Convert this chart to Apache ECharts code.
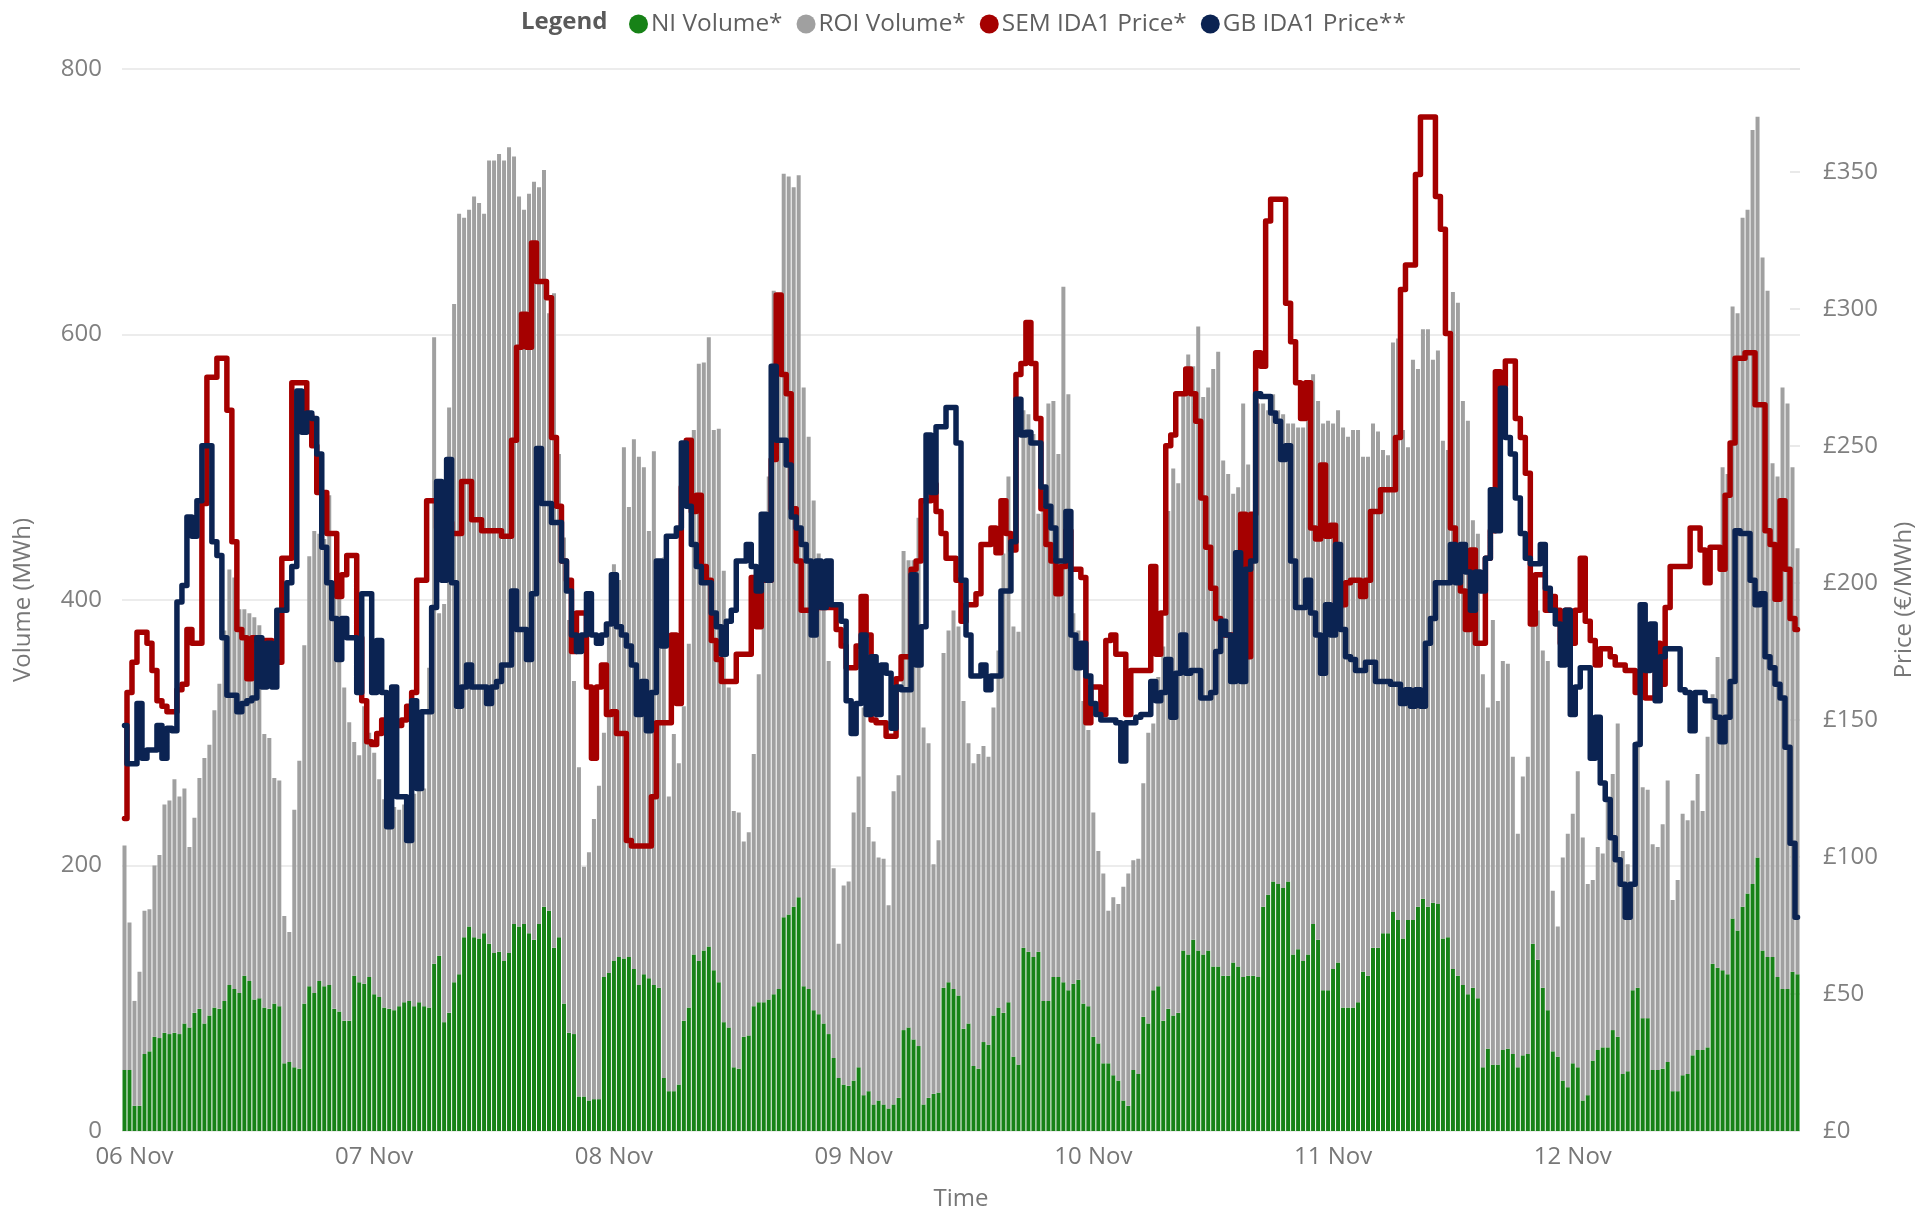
<!DOCTYPE html>
<html><head><meta charset="utf-8">
<script src="https://cdn.jsdelivr.net/npm/echarts@6/dist/echarts.min.js"></script>
<style>html,body{margin:0;padding:0;background:#fff}#c{width:1921px;height:1211px}</style>
</head><body><div id="c"></div>
<script>
// Half-hourly slots, first slot 05 Nov 23:00
const dayLabels = ['06 Nov','07 Nov','08 Nov','09 Nov','10 Nov','11 Nov','12 Nov'];
const volumeTicks = [0, 200, 400, 600, 800];
const priceTicks = [0, 50, 100, 150, 200, 250, 300, 350];

const niVolume = [
46,46,19,19,58,60,71,70,74,73,74,73,81,78,89,92,81,87,93,92,98,110,107,104,117,113,99,100,93,92,96,94,51,52,48,47,96,109,104,113,109,110,92,90,83,83,117,112,
111,116,103,101,93,92,91,94,97,98,94,97,94,93,126,132,82,89,112,118,146,154,146,145,149,141,134,135,128,134,156,154,156,149,144,156,169,166,138,146,96,74,73,26,26,23,24,24,
116,119,128,131,130,131,122,110,118,115,110,108,40,30,30,35,83,93,133,128,136,139,121,112,82,78,48,47,71,72,94,97,97,99,103,107,161,163,169,176,109,107,91,88,81,73,55,40,
35,34,38,48,27,30,20,23,20,17,20,25,76,78,69,64,20,25,28,29,108,112,107,102,77,81,49,47,67,65,87,93,89,97,56,50,138,135,131,135,98,98,116,116,112,106,111,114,
96,94,71,66,51,51,42,38,23,19,46,43,86,81,106,109,83,92,87,89,136,133,144,136,133,136,124,124,117,117,127,124,116,117,117,116,169,178,188,186,183,188,133,137,128,133,156,144,
106,106,122,127,93,93,93,97,120,117,138,138,149,149,165,159,145,159,159,169,175,169,172,171,145,146,122,117,110,103,108,100,48,62,50,50,61,62,58,48,57,58,141,129,108,91,60,56,
38,33,51,48,23,27,53,61,63,63,76,71,43,45,106,108,85,85,46,46,47,52,30,30,42,43,57,61,61,63,126,123,121,118,160,151,169,179,186,206,136,131,131,116,107,107,120,118
];
const roiVolume = [
169,111,79,101,108,107,129,138,172,176,191,179,177,136,147,174,200,204,224,245,279,313,310,289,276,277,288,281,206,204,170,170,111,98,194,232,270,324,348,337,337,369,313,311,251,225,176,171,
209,184,182,164,157,153,153,148,149,152,160,165,164,256,472,258,315,456,511,573,542,540,558,554,542,590,597,601,603,607,578,550,538,557,571,555,555,450,493,364,351,311,266,248,173,187,211,236,
184,261,299,284,385,339,399,398,382,337,402,312,392,222,269,242,237,274,395,450,443,459,407,417,340,256,193,193,147,153,190,247,365,394,530,509,560,556,542,544,451,416,384,347,334,281,143,101,
150,154,202,219,292,199,198,183,185,153,236,243,361,352,361,398,284,267,173,190,252,265,285,278,247,211,228,237,223,217,232,269,346,396,324,326,405,405,394,330,384,450,434,394,524,449,279,263,
228,208,169,145,143,115,134,133,161,175,158,162,176,219,201,233,282,375,412,399,420,452,432,470,420,424,450,463,388,378,353,361,432,385,348,432,379,365,367,357,357,345,400,393,402,407,414,406,
427,429,411,416,437,430,435,431,388,391,395,389,364,360,429,438,383,356,422,405,429,435,409,417,375,367,510,507,440,432,352,350,296,257,335,274,293,290,224,176,210,224,251,263,254,263,121,98,
168,191,188,223,198,159,136,153,146,189,193,236,168,156,78,186,174,172,170,168,184,212,144,159,197,191,192,208,180,234,203,234,379,377,461,465,519,515,568,558,522,502,372,377,453,441,380,321
];
const semPrice = [
114,160,171,182,182,178,168,157,155,153,153,161,163,183,178,178,229,275,275,282,282,263,215,183,180,165,180,179,179,179,171,171,209,209,273,273,273,261,250,233,233,218,218,195,203,210,210,180,
157,142,141,145,150,152,150,148,150,155,160,201,201,230,230,220,230,222,218,218,237,237,223,223,219,219,219,219,217,217,252,286,298,286,324,310,310,304,253,228,208,201,175,189,189,162,136,162,
170,152,153,145,145,106,104,104,104,104,122,149,149,149,181,156,235,252,226,232,206,201,179,172,164,164,164,174,174,174,202,184,201,201,245,305,276,269,227,208,190,190,190,191,191,191,191,183,
177,169,169,177,195,181,150,149,149,144,144,165,173,173,205,208,230,230,236,226,218,209,209,201,186,192,192,196,214,214,220,211,230,218,212,276,280,295,280,260,227,214,208,196,206,219,205,205,
202,149,162,162,152,179,181,174,174,152,168,168,168,168,206,174,189,250,254,269,269,278,269,259,231,213,198,187,181,181,181,176,225,173,225,284,279,332,340,340,340,302,288,273,260,273,220,216,
243,217,221,191,192,200,201,201,195,201,226,226,234,234,234,253,307,316,316,349,370,370,370,341,329,291,220,212,197,183,212,178,178,209,219,277,272,281,281,260,253,240,185,203,203,190,195,190,
178,190,178,190,209,186,179,170,176,176,173,170,170,168,168,160,168,158,158,178,163,191,206,206,206,206,220,220,212,200,213,213,205,232,251,282,282,284,284,265,265,219,214,194,230,205,187,183
];
const gbPrice = [
148,134,134,156,136,139,139,148,136,147,146,193,199,224,217,230,250,250,215,210,180,159,159,153,156,157,158,180,162,178,162,190,190,200,206,270,255,262,260,247,213,200,187,172,187,180,180,160,
196,196,160,179,160,111,162,122,122,106,157,125,153,153,191,237,201,245,200,155,162,170,162,162,162,156,162,164,170,170,197,183,183,172,196,249,229,229,222,222,208,197,181,175,181,196,181,178,
181,185,203,184,181,177,170,152,164,146,160,208,177,217,217,220,251,228,214,206,200,200,189,184,174,186,190,208,208,214,206,197,225,201,279,252,252,243,224,220,214,208,181,208,191,208,192,192,
186,157,145,156,181,152,173,152,170,167,147,162,161,161,203,170,184,254,233,257,257,264,264,251,201,181,166,166,170,161,166,166,197,197,215,267,254,255,251,251,235,228,220,208,208,226,181,169,
178,166,156,152,150,150,150,149,135,149,149,151,152,152,164,157,160,172,151,167,181,167,168,168,158,158,160,175,186,181,164,211,164,205,208,269,268,268,262,259,245,250,208,191,191,201,189,181,
167,192,181,214,183,173,172,168,168,171,171,164,164,164,163,163,156,161,155,161,155,178,187,200,200,200,214,200,214,204,190,204,197,209,234,219,271,253,247,231,218,209,207,207,214,198,190,185,
170,190,152,162,169,169,136,151,127,121,107,99,90,78,90,141,192,168,185,157,173,176,176,176,161,160,146,160,160,157,157,151,142,151,164,219,218,218,201,192,196,173,169,163,158,140,105,78
];

// category slots (labels only)
const slots = [];
for (let i = 0; i < niVolume.length; i++) {
  const m = 23 * 60 + 30 * i;
  const d = Math.floor(m / 1440);
  const hm = m % 1440;
  const hh = String(Math.floor(hm / 60)).padStart(2, '0');
  const mm = String(hm % 60).padStart(2, '0');
  slots.push((d === 0 ? '05 Nov' : dayLabels[d - 1]) + ' ' + hh + ':' + mm);
}

const FONT = "'Segoe UI', 'Open Sans', sans-serif";
const chart = echarts.init(document.getElementById('c'), null, {renderer: 'canvas'});
chart.setOption({
  animation: false,
  backgroundColor: '#ffffff',
  textStyle: {fontFamily: FONT},
  graphic: [{
    type: 'text', left: 521, top: 10,
    style: {text: 'Legend', font: "bold 24px 'Segoe UI', 'Open Sans', sans-serif", fill: '#5a5a5a'}
  }],
  legend: {
    left: 624, top: 7, itemWidth: 19, itemHeight: 19, itemGap: 14, icon: 'circle',
    textStyle: {fontSize: 24.4, color: '#5f5f5f', fontFamily: FONT, padding: [0, 0, 0, -2]},
    data: ['NI Volume*', 'ROI Volume*', 'SEM IDA1 Price*', 'GB IDA1 Price**']
  },
  grid: {left: 122, right: 121, top: 69, bottom: 80, containLabel: false, outerBoundsMode: 'none'},
  xAxis: {
    type: 'category', data: slots, boundaryGap: true,
    name: 'Time', nameLocation: 'middle', nameGap: 56,
    nameTextStyle: {fontSize: 24, color: '#777777', fontFamily: FONT},
    axisLine: {show: false}, axisTick: {show: false},
    axisLabel: {
      interval: function (idx, val) { return val.slice(7) === '00:00'; },
      formatter: function (val) { return val.slice(0, 6); },
      fontSize: 24, color: '#777777', margin: 14, fontFamily: FONT
    }
  },
  yAxis: [{
    type: 'value', min: volumeTicks[0], max: volumeTicks[volumeTicks.length - 1], interval: 200,
    name: 'Volume (MWh)', nameLocation: 'middle', nameGap: 87, nameRotate: 90,
    nameTextStyle: {fontSize: 24, color: '#777777', fontFamily: FONT},
    axisLine: {show: false}, axisTick: {show: false},
    axisLabel: {fontSize: 24, color: '#808080', margin: 20, fontFamily: FONT},
    splitLine: {show: true, lineStyle: {color: '#e6e6e6', width: 1.5}}
  }, {
    type: 'value', min: priceTicks[0], max: 387.5, interval: 50,
    name: 'Price (€/MWh)', nameLocation: 'middle', nameGap: 92, nameRotate: 90,
    nameTextStyle: {fontSize: 24, color: '#777777', fontFamily: FONT},
    axisLine: {show: false},
    axisTick: {show: true, inside: true, length: 10, lineStyle: {color: '#e2e2e2', width: 1.5}},
    axisLabel: {
      fontSize: 24, color: '#808080', margin: 23, fontFamily: FONT,
      formatter: function (v) { return priceTicks.indexOf(v) >= 0 ? '£' + v : ''; }
    },
    splitLine: {show: false}
  }],
  series: [{
    name: 'NI Volume*', type: 'bar', stack: 'vol', data: niVolume,
    barCategoryGap: '20%', itemStyle: {color: '#178217'}
  }, {
    name: 'ROI Volume*', type: 'bar', stack: 'vol', data: roiVolume,
    barCategoryGap: '20%', itemStyle: {color: '#a0a0a0'}
  }, {
    name: 'SEM IDA1 Price*', type: 'line', yAxisIndex: 1, step: 'middle', data: semPrice,
    symbol: 'none', itemStyle: {color: '#a50000'},
    lineStyle: {color: '#a50000', width: 5.5, join: 'round', cap: 'round'}, z: 3
  }, {
    name: 'GB IDA1 Price**', type: 'line', yAxisIndex: 1, step: 'middle', data: gbPrice,
    symbol: 'none', itemStyle: {color: '#0b2352'},
    lineStyle: {color: '#0b2352', width: 5.5, join: 'round', cap: 'round'}, z: 4
  }]
});
</script>
</body></html>
